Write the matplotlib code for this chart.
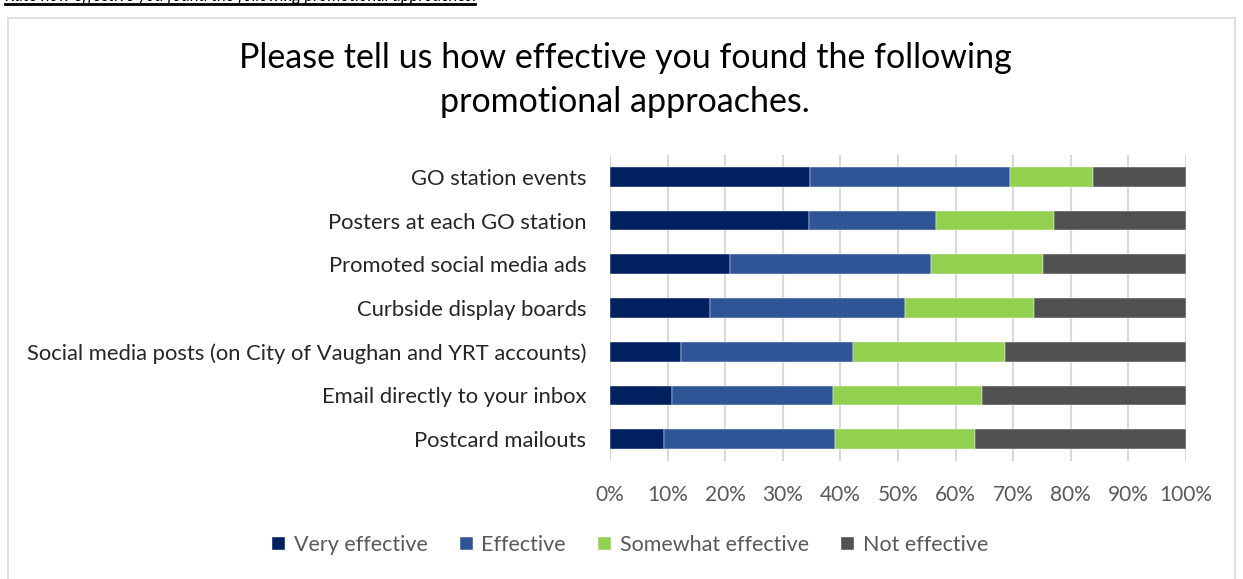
import matplotlib.pyplot as plt
import numpy as np
from matplotlib.patches import Rectangle

plt.rcParams["font.family"] = ["Lato", "DejaVu Sans"]

categories = [
    "GO station events",
    "Posters at each GO station",
    "Promoted social media ads",
    "Curbside display boards",
    "Social media posts (on City of Vaughan and YRT accounts)",
    "Email directly to your inbox",
    "Postcard mailouts",
]
very_effective = [34.7, 34.5, 20.8, 17.3, 12.3, 10.7, 9.3]
effective = [34.8, 22.1, 35.0, 34.0, 29.9, 28.1, 29.7]
somewhat_effective = [14.4, 20.5, 19.3, 22.3, 26.4, 25.7, 24.3]
not_effective = [16.1, 22.9, 24.9, 26.4, 31.4, 35.5, 36.7]

series_names = ["Very effective", "Effective", "Somewhat effective", "Not effective"]
colors = ["#002060", "#2f5597", "#92d050", "#515151"]
ticks = np.arange(0, 101, 10)

W, H = 1243, 579
fig = plt.figure(figsize=(W / 100, H / 100), dpi=100)

# chart border and the heading above it (cut off by the screenshot edge)
fig.patches.append(Rectangle((8 / W, -0.05), 1227 / W, 1 - 18 / H + 0.05,
                             transform=fig.transFigure, fill=False,
                             edgecolor="#d9d9d9", linewidth=1.2))
fig.text(5 / W, 1 - 1 / H, "Rate how effective you found the following promotional approaches:",
         fontsize=12, style="italic", va="baseline", ha="left")
fig.add_artist(plt.Line2D([5 / W, 475 / W], [1 - 4 / H, 1 - 4 / H],
                          transform=fig.transFigure, color="black", linewidth=2))

fig.text(625 / W, 1 - 80 / H,
         "Please tell us how effective you found the following\npromotional approaches.",
         ha="center", va="center", fontsize=24.5, color="#000000", linespacing=1.45)

ax = fig.add_axes([610 / W, 1 - 461 / H, 576 / W, 306 / H])

y = np.arange(len(categories))
left = np.zeros(len(categories))
for name, vals, c in zip(series_names,
                         [very_effective, effective, somewhat_effective, not_effective],
                         colors):
    ax.barh(y, vals, left=left, height=0.45, color=c, label=name,
            edgecolor="white", linewidth=0.3, zorder=3)
    left += np.array(vals)

ax.set_ylim(len(categories) - 0.5, -0.5)
ax.set_xlim(0, 100)
ax.set_yticks(y)
ax.set_yticklabels(categories, fontsize=15.8, color="#262626")
ax.set_xticks(ticks)
ax.set_xticklabels([f"{t}%" for t in ticks], fontsize=15, color="#595959")
ax.tick_params(axis="both", length=0)
ax.tick_params(axis="y", pad=17)
ax.tick_params(axis="x", pad=17)
ax.xaxis.grid(True, color="#d9d9d9", linewidth=1.5, zorder=0)
for s in ax.spines.values():
    s.set_visible(False)

handles, labels = ax.get_legend_handles_labels()
fig.legend(handles, labels, loc="center", bbox_to_anchor=(630 / W, 1 - 545 / H),
           ncol=4, frameon=False, fontsize=15.5, labelcolor="#595959",
           handlelength=0.6, handleheight=0.6, handletextpad=0.4, columnspacing=1.5)

fig.savefig("out.png", dpi=100)
